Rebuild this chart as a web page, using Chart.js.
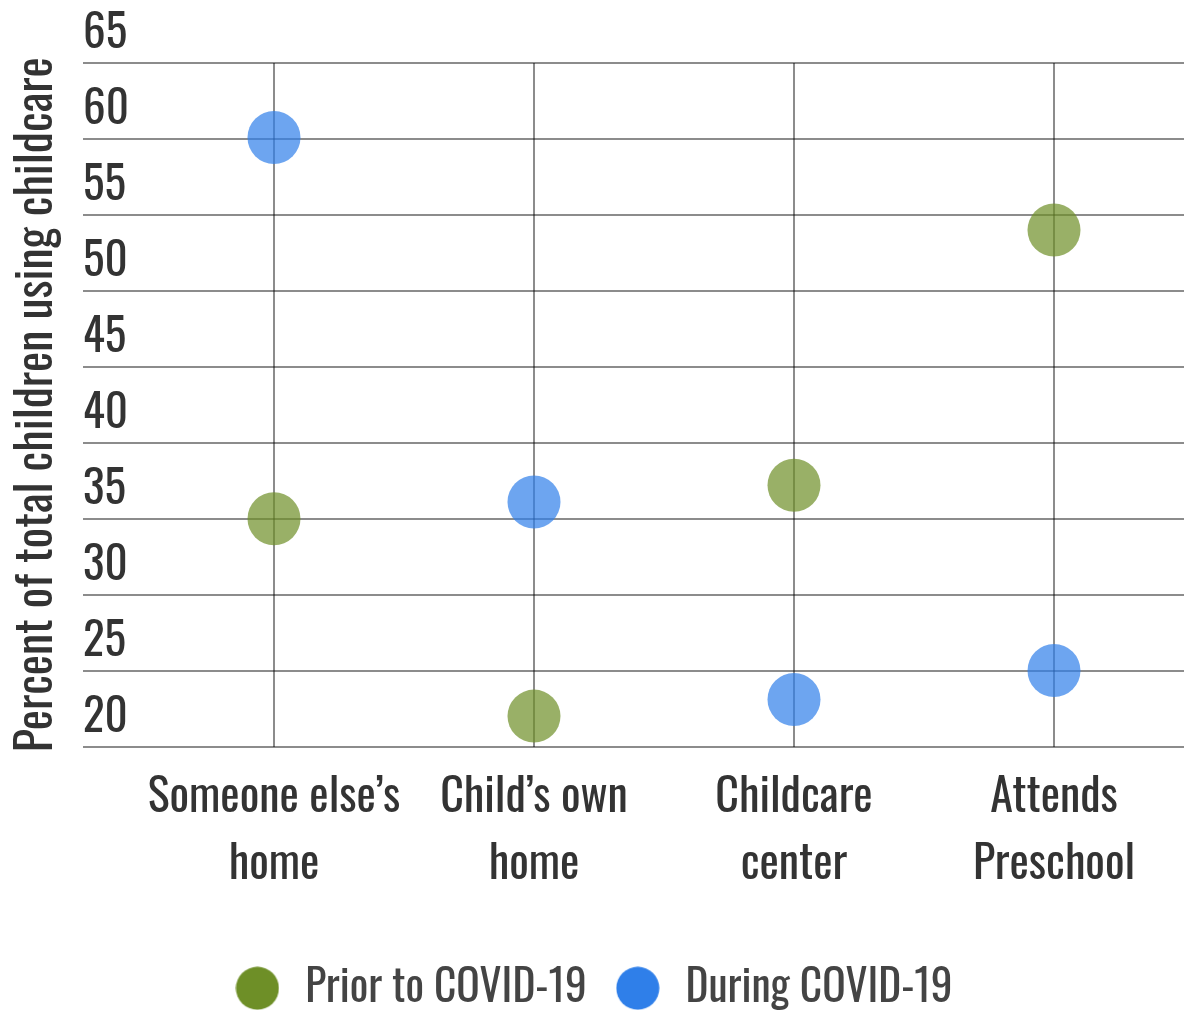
<!DOCTYPE html>
<html>
<head>
<meta charset="utf-8">
<script src="https://cdn.jsdelivr.net/npm/chart.js@4/dist/chart.umd.min.js"></script>
<style>
  html, body { margin: 0; padding: 0; background: #ffffff; }
  #wrap { width: 1184px; height: 1020px; }
</style>
</head>
<body>
<div id="wrap"><canvas id="c" width="1184" height="1020"></canvas></div>
<script>
// ---- Data ----
const categories = [
  ["Someone else\u2019s", "home"],
  ["Child\u2019s own", "home"],
  ["Childcare", "center"],
  ["Attends", "Preschool"]
];
const priorValues  = [35.0, 22.0, 37.2, 54.0];
const duringValues = [60.1, 36.1, 23.1, 25.0];
const yTicks = [20, 25, 30, 35, 40, 45, 50, 55, 60, 65];
const seriesNames = ["Prior to COVID-19", "During COVID-19"];
const yTitle = "Percent of total children using childcare";

// ---- Styles ----
const FONT = '"Oswald", "DejaVu Sans Condensed", sans-serif';
const solidColors = ["#6e8f27", "#2f7fe9"];
const pointColors = ["rgba(110,143,39,0.7)", "rgba(47,127,233,0.7)"];
const gridColor = "rgba(0,0,0,0.45)";

function toPoints(vals) { return vals.map((v, i) => ({ x: i, y: v })); }
function noPad(scale) { scale.paddingLeft = 0; scale.paddingRight = 0; scale.paddingTop = 0; scale.paddingBottom = 0; }
function legendDot(color) {
  const cv = document.createElement('canvas');
  cv.width = 44; cv.height = 44;
  const g = cv.getContext('2d');
  g.fillStyle = color;
  g.beginPath(); g.arc(22, 22, 21.5, 0, Math.PI * 2); g.fill();
  return cv;
}
const legendDots = solidColors.map(legendDot);

new Chart(document.getElementById('c'), {
  type: 'scatter',
  data: {
    datasets: [
      { label: seriesNames[0], data: toPoints(priorValues), backgroundColor: pointColors[0], borderWidth: 0, pointRadius: 26.5, pointHoverRadius: 26.5, pointStyle: 'circle' },
      { label: seriesNames[1], data: toPoints(duringValues), backgroundColor: pointColors[1], borderWidth: 0, pointRadius: 26.5, pointHoverRadius: 26.5, pointStyle: 'circle' }
    ]
  },
  options: {
    responsive: false,
    animation: false,
    layout: { autoPadding: false, padding: { top: 63, left: 0, right: 0, bottom: 0 } },
    plugins: {
      tooltip: { enabled: false },
      legend: {
        position: 'bottom',
        labels: {
          usePointStyle: true,
          boxHeight: 30,
          boxWidth: 30,
          pointStyleWidth: 52,
          padding: 25,
          color: '#444444',
          font: { family: FONT, size: 43.5, weight: '400' },
          generateLabels: function (chart) {
            const items = Chart.defaults.plugins.legend.labels.generateLabels(chart);
            items.forEach((it, i) => {
              it.fillStyle = solidColors[i];
              it.strokeStyle = solidColors[i];
              it.lineWidth = 0;
              it.pointStyle = legendDots[i];
            });
            return items;
          }
        }
      }
    },
    scales: {
      x: {
        type: 'linear',
        min: -0.7346,
        max: 3.5,
        afterBuildTicks: function (scale) {
          scale.ticks = categories.map((c, i) => ({ value: i }));
        },
        afterFit: function (scale) { noPad(scale); scale.height = 195; },
        ticks: {
          autoSkip: false,
          maxRotation: 0,
          minRotation: 0,
          padding: 18,
          color: '#333333',
          font: { family: FONT, size: 46, weight: '400', lineHeight: 1.46 },
          callback: function (value) { return categories[value]; }
        },
        grid: { color: gridColor, lineWidth: 2, drawTicks: false },
        border: { display: false }
      },
      y: {
        min: 20,
        max: 65,
        afterBuildTicks: function (scale) {
          scale.ticks = yTicks.map(v => ({ value: v }));
        },
        afterFit: noPad,
        ticks: {
          mirror: true,
          padding: 0,
          labelOffset: -28.5,
          color: '#333333',
          font: { family: FONT, size: 45, weight: '400' }
        },
        grid: { color: gridColor, lineWidth: 2, drawTicks: false },
        border: { display: false },
        title: {
          display: true,
          text: yTitle,
          color: '#333333',
          font: { family: FONT, size: 48, weight: '400', lineHeight: 1.2 },
          padding: { top: 8.5, bottom: 16.9 }
        }
      }
    }
  }
});
</script>
</body>
</html>
